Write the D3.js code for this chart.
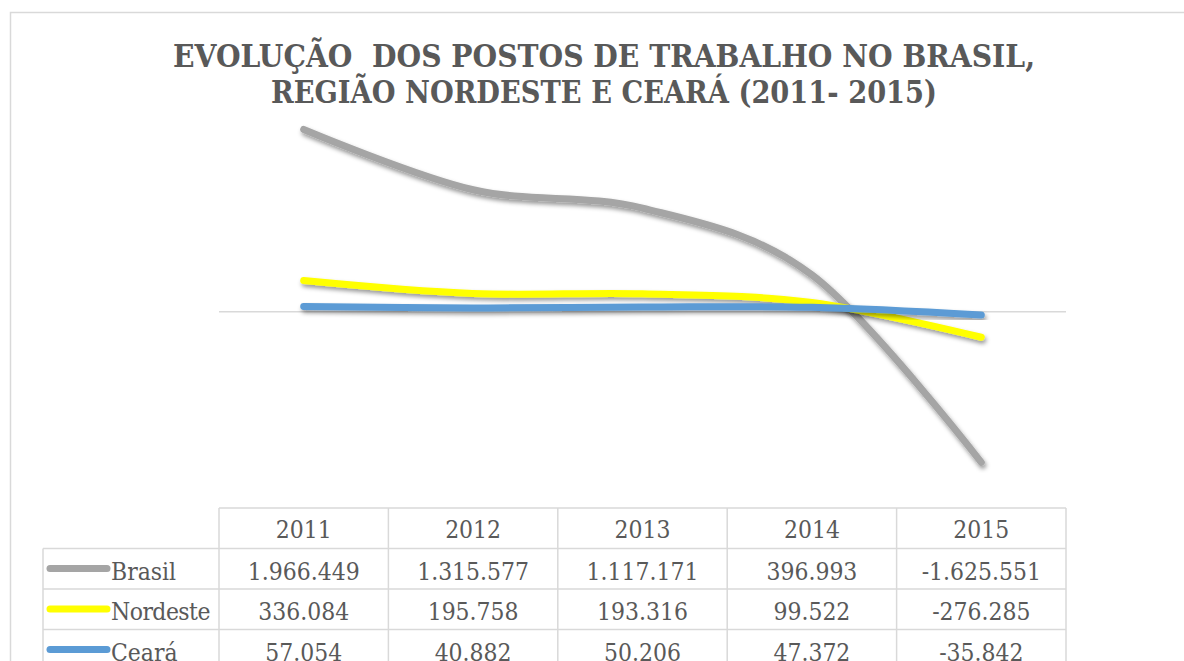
<!DOCTYPE html>
<html>
<head>
<meta charset="utf-8">
<script src="https://cdn.jsdelivr.net/npm/d3@7"></script>
<style>
  html, body { margin: 0; padding: 0; background: #fff; }
  svg { display: block; }
  .serif { font-family: "DejaVu Serif", serif; }
</style>
</head>
<body>
<div id="chart"></div>
<script>
const years = ["2011", "2012", "2013", "2014", "2015"];
const brasil = [1966449, 1315577, 1117171, 396993, -1625551];
const nordeste = [336084, 195758, 193316, 99522, -276285];
const ceara = [57054, 40882, 50206, 47372, -35842];
const seriesNames = ["Brasil", "Nordeste", "Ceará"];
const seriesColors = ["#A5A5A5", "#FFFF00", "#5B9BD5"];
const titleLines = ["EVOLUÇÃO  DOS POSTOS DE TRABALHO NO BRASIL,", "REGIÃO NORDESTE E CEARÁ (2011- 2015)"];

const width = 1184;
const height = 661;

const series = [brasil, nordeste, ceara].map((values, i) => ({
  name: seriesNames[i],
  color: seriesColors[i],
  values: values
}));

const ptBR = d3.formatLocale({
  decimal: ",",
  thousands: ".",
  grouping: [3],
  currency: ["R$", ""],
  minus: "-"
});
const fmt = ptBR.format(",d");

const svg = d3.select("#chart").append("svg")
  .attr("width", width)
  .attr("height", height);

// drop shadow for the lines
const defs = svg.append("defs");
defs.append("filter")
  .attr("id", "shadow")
  .attr("x", "-10%").attr("y", "-50%")
  .attr("width", "120%").attr("height", "200%")
  .append("feDropShadow")
  .attr("dx", 1.5)
  .attr("dy", 3)
  .attr("stdDeviation", 2)
  .attr("flood-color", "#000")
  .attr("flood-opacity", 0.4);

// chart frame
svg.append("rect")
  .attr("x", 10.5).attr("y", 12.5)
  .attr("width", 1200).attr("height", 700)
  .attr("fill", "#fff")
  .attr("stroke", "#D9D9D9")
  .attr("stroke-width", 1.5);

// title
svg.append("g")
  .attr("class", "serif")
  .selectAll("text")
  .data(titleLines)
  .enter()
  .append("text")
  .attr("x", 604)
  .attr("y", (d, i) => 67 + i * 36)
  .attr("text-anchor", "middle")
  .attr("textLength", (d, i) => i === 0 ? 862 : 666)
  .attr("lengthAdjust", "spacingAndGlyphs")
  .style("white-space", "pre")
  .attr("font-weight", "bold")
  .attr("font-size", 31)
  .attr("fill", "#595959")
  .text(d => d);

// scales
const plotLeft = 219, plotRight = 1066;
const x = d3.scaleBand().domain(years).range([plotLeft, plotRight]);
const y = d3.scaleLinear().domain([-2000000, 2500000]).range([497, 80]);

// zero line
svg.append("line")
  .attr("x1", plotLeft).attr("x2", plotRight)
  .attr("y1", y(0)).attr("y2", y(0))
  .attr("stroke", "#D9D9D9")
  .attr("stroke-width", 1.5);

const line = d3.line()
  .x((d, i) => x(years[i]) + x.bandwidth() / 2)
  .y(d => y(d))
  .curve(d3.curveCardinal.tension(0));

svg.append("g")
  .selectAll("path")
  .data(series)
  .enter()
  .append("path")
  .attr("d", d => line(d.values))
  .attr("fill", "none")
  .attr("stroke", d => d.color)
  .attr("stroke-width", 7)
  .attr("stroke-linecap", "round")
  .attr("stroke-linejoin", "round")
  .attr("filter", "url(#shadow)");

// data table
const tableTop = 508;
const rowH = 40.5;
const labelLeft = 43;
const squeeze = 0.88;
const table = svg.append("g")
  .attr("class", "serif")
  .attr("font-size", 25)
  .attr("fill", "#595959");

const gridColor = "#D9D9D9";
// horizontal lines
[0, 1, 2, 3, 4].forEach(r => {
  table.append("line")
    .attr("x1", r === 0 ? plotLeft : labelLeft)
    .attr("x2", plotRight)
    .attr("y1", tableTop + r * rowH).attr("y2", tableTop + r * rowH)
    .attr("stroke", gridColor).attr("stroke-width", 1.5);
});
// vertical lines
table.append("line")
  .attr("x1", labelLeft).attr("x2", labelLeft)
  .attr("y1", tableTop + rowH).attr("y2", height + 20)
  .attr("stroke", gridColor).attr("stroke-width", 1.5);
years.forEach((yr, i) => {
  table.append("line")
    .attr("x1", x(yr)).attr("x2", x(yr))
    .attr("y1", tableTop).attr("y2", height + 20)
    .attr("stroke", gridColor).attr("stroke-width", 1.5);
});
table.append("line")
  .attr("x1", plotRight).attr("x2", plotRight)
  .attr("y1", tableTop).attr("y2", height + 20)
  .attr("stroke", gridColor).attr("stroke-width", 1.5);

// header
table.selectAll("text.year")
  .data(years)
  .enter()
  .append("text")
  .attr("class", "year")
  .attr("transform", d => `translate(${x(d) + x.bandwidth() / 2},${tableTop + 30}) scale(${squeeze},1)`)
  .attr("text-anchor", "middle")
  .text(d => d);

// rows
series.forEach((s, r) => {
  const rowY = tableTop + (r + 1) * rowH;
  table.append("line")
    .attr("x1", 50).attr("x2", 107)
    .attr("y1", rowY + 20).attr("y2", rowY + 20)
    .attr("stroke", s.color)
    .attr("stroke-width", 7)
    .attr("stroke-linecap", "round");
  table.append("text")
    .attr("transform", `translate(111,${rowY + 31}) scale(${squeeze},1)`)
    .attr("textLength", s.name === "Nordeste" ? 113 : null)
    .attr("lengthAdjust", "spacing")
    .text(s.name);
  table.selectAll(null)
    .data(s.values)
    .enter()
    .append("text")
    .attr("transform", (d, i) => `translate(${x(years[i]) + x.bandwidth() / 2},${rowY + 31}) scale(${squeeze},1)`)
    .attr("text-anchor", "middle")
    .text(d => fmt(d));
});
</script>
</body>
</html>
